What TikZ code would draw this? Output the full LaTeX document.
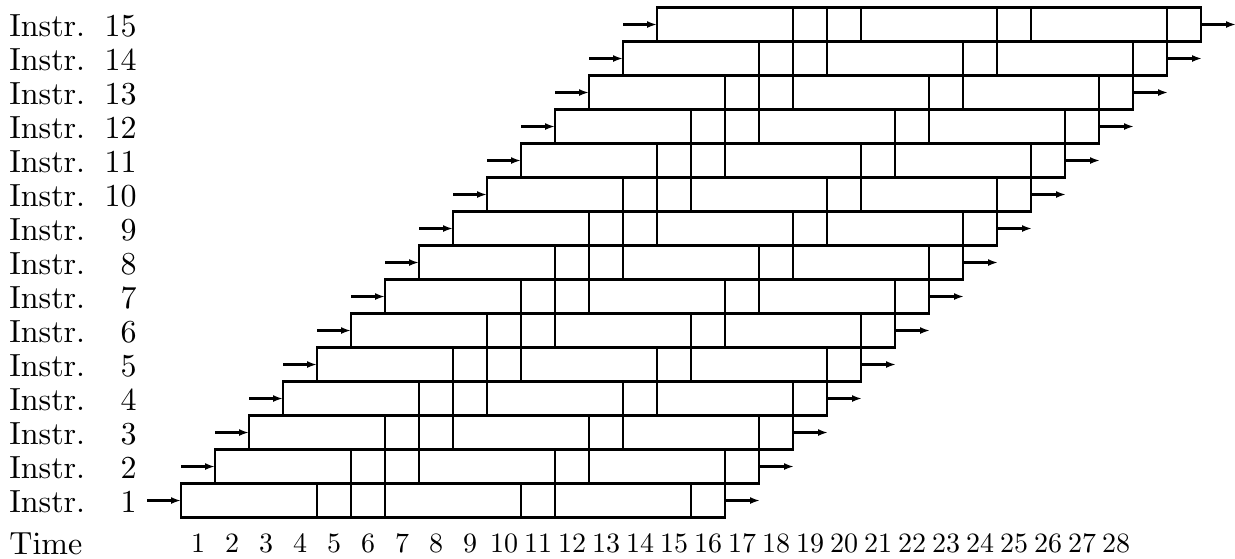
\documentclass[tikz,border=0pt]{standalone}
\usetikzlibrary{arrows.meta}
\font\myLabFont=cmr10 at 16pt
\font\myNumFont=cmr10 at 14pt
\begin{document}
\begin{tikzpicture}[x=0.5pt,y=-0.5pt,
  seg/.style={draw, rectangle, line width=1.1pt, minimum height=17pt, inner sep=0pt, outer sep=0pt},
  arr/.style={line width=1.1pt, -{Latex[length=5pt,width=3.5pt]}},
  lab/.style={inner sep=0pt, font=\myLabFont},
  tnum/.style={inner sep=0pt, font=\myNumFont, anchor=base}]
\useasboundingbox (0,0) rectangle (1235,558);
\foreach \i in {1,...,15}{
  \pgfmathsetmacro{\yc}{500.5-34*(\i-1)}
  \pgfmathsetmacro{\xl}{181+34*(\i-1)}
  \foreach \j/\o/\w in {1/0/4,2/4/1,3/5/1,4/6/4,5/10/1,6/11/4,7/15/1}{
    \node[seg, minimum width=\w*17pt] (s\i-\j) at ({\xl+(\o+\w/2)*34},\yc) {};
  }
  \coordinate (in\i) at ({\xl-34},\yc);
  \coordinate (out\i) at ({\xl+16*34+35},\yc);
  \draw[arr] (in\i) -- (s\i-1.west);
  \draw[arr] (s\i-7.east) -- (out\i);
  \node[lab, anchor=base west] (li\i) at (9,{\yc+11.5}) {Instr.};
  \node[lab, anchor=base east] (ln\i) at (137,{\yc+11.5}) {\i};
}
\node[lab, anchor=base west] (time) at (9,554) {Time};
\foreach \k in {1,...,28}{
  \node[tnum] (t\k) at ({198+34*(\k-1)},552.5) {\k};
}
\end{tikzpicture}
\end{document}
